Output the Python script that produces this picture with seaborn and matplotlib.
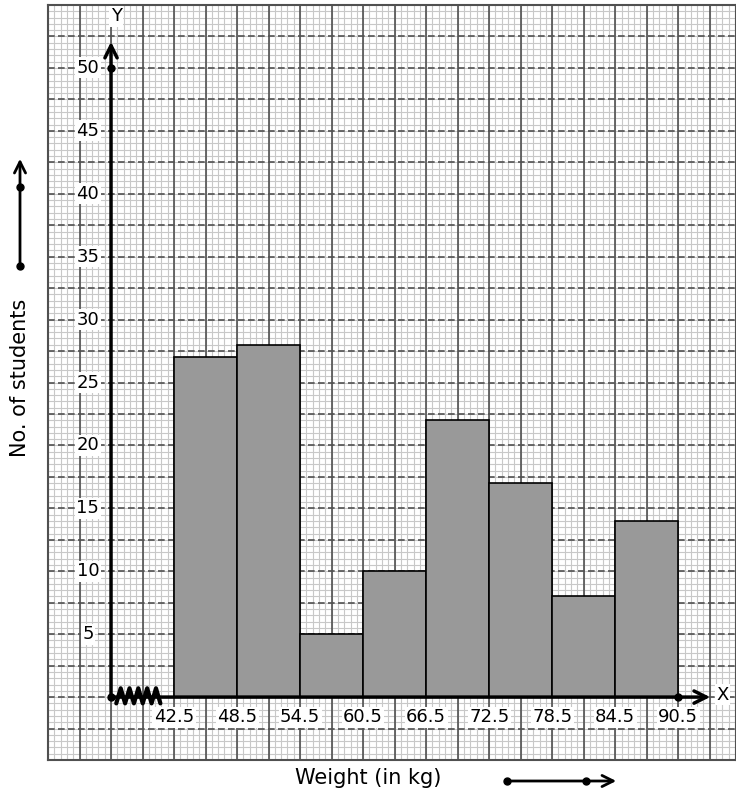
import numpy as np
import matplotlib
matplotlib.use('Agg')
import matplotlib.pyplot as plt
import seaborn as sns

sns.set_style('white')
plt.rcParams['font.family'] = ['DejaVu Sans']
plt.rcParams['text.color'] = 'black'

# %%
bin_edges = [42.5, 48.5, 54.5, 60.5, 66.5, 72.5, 78.5, 84.5, 90.5]
students = [27, 28, 5, 10, 22, 17, 8, 14]
y_ticks = [5, 10, 15, 20, 25, 30, 35, 40, 45, 50]
mids = [(a + b) / 2 for a, b in zip(bin_edges[:-1], bin_edges[1:])]

# %%
fig = plt.figure(figsize=(7.36, 7.96), dpi=100)
ax = fig.add_axes([48 / 736, 36 / 796, 688 / 736, 755 / 796])
x0, x1 = 30.5, 96.0
y0, y1 = -5.0, 55.0
ax.set_xlim(x0, x1)
ax.set_ylim(y0, y1)
ax.set_xticks([])
ax.set_yticks([])

# graph paper
for x in np.arange(x0, x1, 0.6):
    ax.axvline(x, color='#c8c8c8', lw=0.8, zorder=0)
for y in np.arange(y0, y1, 0.5):
    ax.axhline(y, color='#c8c8c8', lw=0.8, zorder=0)
for x in np.arange(x0, x1, 3):
    ax.axvline(x, color='#505050', lw=1.2, zorder=0.5)
for y in np.arange(y0, y1, 2.5):
    ax.axhline(y, color='#505050', lw=1.2, ls=(0, (4, 2)), zorder=0.5)
for s in ax.spines.values():
    s.set_color('#505050')
    s.set_linewidth(1.5)

# histogram
sns.histplot(x=mids, weights=students, bins=bin_edges, color='#999999',
             edgecolor='black', linewidth=1.2, alpha=1, ax=ax, zorder=2)
ax.set_xlabel('')
ax.set_ylabel('')

# axes with arrows
ox = 36.5
ax.annotate('', xy=(ox, 52.3), xytext=(ox, 0), zorder=4,
            arrowprops=dict(arrowstyle='->', lw=2.5, color='black', mutation_scale=22))
ax.annotate('', xy=(93.8, 0), xytext=(ox, 0), zorder=4,
            arrowprops=dict(arrowstyle='->', lw=2.5, color='black', mutation_scale=22))
ax.plot([ox, ox, 90.5], [0, 50, 0], 'o', color='black', ms=5, zorder=5)

# kink on x axis
zx = np.linspace(37.0, 41.2, 11)
zy = np.array([0.7 if i % 2 else -0.5 for i in range(11)])
ax.plot(zx, zy, color='black', lw=3, zorder=5)

box = dict(facecolor='white', edgecolor='none', pad=1.0)
for v in y_ticks:
    ax.text(34.3, v, str(v), ha='center', va='center', fontsize=13, bbox=box, zorder=3)
for e in bin_edges:
    ax.text(e, -1.6, str(e), ha='center', va='center', fontsize=13, bbox=box, zorder=3)
ax.text(37.0, 54.1, 'Y', ha='center', va='center', fontsize=13, bbox=box, zorder=3)
ax.text(94.7, 0.2, 'X', ha='center', va='center', fontsize=13, bbox=box, zorder=3)

# axis labels with arrows
fig.text(368 / 736, 1 - 778 / 796, 'Weight (in kg)', ha='center', va='center', fontsize=15)
fig.text(20 / 736, 1 - 378 / 796, 'No. of students', ha='center', va='center',
         fontsize=15, rotation=90)
fig.patches.append(matplotlib.patches.FancyArrowPatch(
    (507 / 736, 1 - 781 / 796), (619 / 736, 1 - 781 / 796), transform=fig.transFigure,
    arrowstyle='->', lw=2, color='black', mutation_scale=20))
fig.patches.append(matplotlib.patches.FancyArrowPatch(
    (20 / 736, 1 - 266 / 796), (20 / 736, 1 - 156 / 796), transform=fig.transFigure,
    arrowstyle='->', lw=2, color='black', mutation_scale=20))
fig.lines.append(matplotlib.lines.Line2D(
    [507 / 736, 586 / 736], [1 - 781 / 796, 1 - 781 / 796], transform=fig.transFigure,
    ls='none', marker='o', ms=5, color='black'))
fig.lines.append(matplotlib.lines.Line2D(
    [20 / 736, 20 / 736], [1 - 266 / 796, 1 - 187 / 796], transform=fig.transFigure,
    ls='none', marker='o', ms=5, color='black'))

fig.savefig('out.png', dpi=100)
